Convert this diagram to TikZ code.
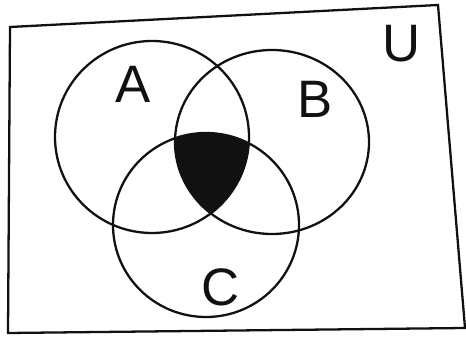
\documentclass[tikz,border=0pt]{standalone}
\usepackage{fontspec}
\setmainfont{Liberation Sans}
\definecolor{pencil}{HTML}{111111}
\tikzset{
  stroke/.style={draw=pencil, line width=1.3pt},
  setlabel/.style={font=\fontsize{30}{30}\selectfont, text=pencil, inner sep=0pt}
}
\begin{document}
\begin{tikzpicture}[x=0.02cm, y=-0.02cm]
\useasboundingbox (0,0) rectangle (466,337);

% Triple intersection, shaded.
\begin{scope}
  \clip (152,137) ellipse (97 and 96);
  \clip (272,142) ellipse (97 and 92);
  \fill[pencil] (206,225) ellipse (93 and 92);
\end{scope}

% Universe and the three sets.
\draw[stroke] (10,27) -- (438,5) -- (465,328) -- (8,333) -- cycle;
\draw[stroke] (152,137) ellipse (97 and 96);
\draw[stroke] (272,142) ellipse (97 and 92);
\draw[stroke] (206,225) ellipse (93 and 92);

\node[setlabel] (labA) at (133,84) {A};
\node[setlabel] (labB) at (315,99) {B};
\node[setlabel] (labC) at (221,287) {C};
\node[setlabel] (labU) at (402,44) {U};

\end{tikzpicture}
\end{document}
